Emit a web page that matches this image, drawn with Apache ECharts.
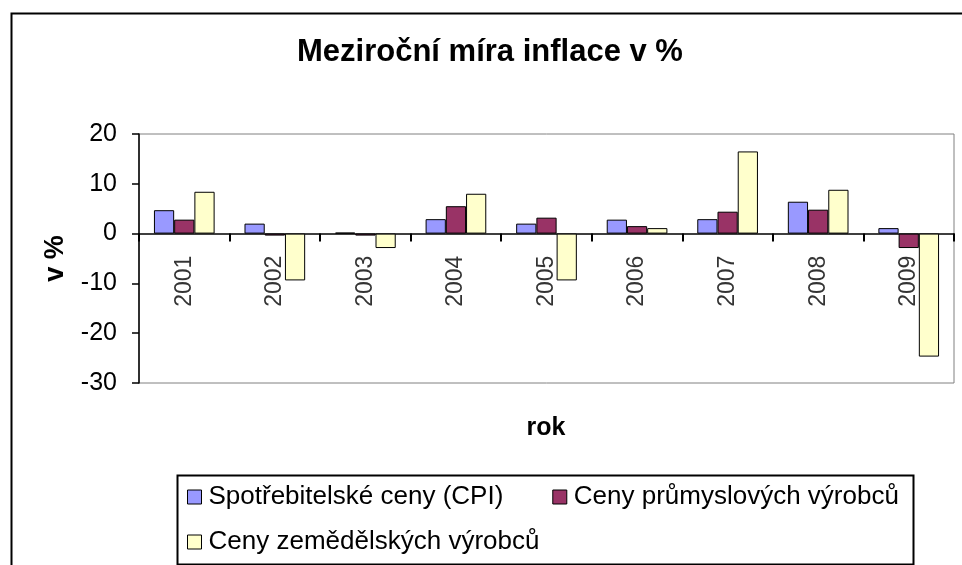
<!DOCTYPE html>
<html>
<head>
<meta charset="utf-8">
<script src="https://cdn.jsdelivr.net/npm/echarts@6/dist/echarts.min.js"></script>
<style>
html,body{margin:0;padding:0;background:#fff;}
#chart{width:962px;height:565px;}
</style>
</head>
<body>
<div id="chart"></div>
<script>
var years = ['2001','2002','2003','2004','2005','2006','2007','2008','2009'];
var seriesNames = ['Spotřebitelské ceny (CPI)','Ceny průmyslových výrobců','Ceny zemědělských výrobců'];
var cpi = [4.7, 2.0, 0.2, 2.9, 2.0, 2.8, 2.9, 6.4, 1.1];
var industrial = [2.8, -0.4, -0.4, 5.5, 3.2, 1.5, 4.4, 4.8, -2.9];
var agricultural = [8.4, -9.4, -2.9, 8.0, -9.4, 1.1, 16.5, 8.8, -24.7];
var yMin = -30, yMax = 20, yStep = 10;
var colors = ['#9999FF', '#993366', '#FFFFCC'];

var FONT = "'Liberation Sans', Arial, sans-serif";
var chart = echarts.init(document.getElementById('chart'), null, {renderer: 'canvas'});

function bar(name, data, color) {
  return {
    name: name, type: 'bar', data: data,
    barGap: '0%', barCategoryGap: '33%',
    itemStyle: {color: color, borderColor: '#000', borderWidth: 1},
    animation: false
  };
}

var legendCommon = {
  orient: 'horizontal',
  padding: 0,
  itemWidth: 14, itemHeight: 14,
  itemGap: 49,
  icon: 'rect',
  itemStyle: {borderColor: '#000', borderWidth: 1},
  textStyle: {fontFamily: FONT, fontSize: 26, color: '#000', lineHeight: 30, padding: [0,0,0,2]}
};

// year labels placed on the zero line (category, 0)
var labelPoints = years.map(function (y) { return [y, 0]; });

chart.setOption({
  backgroundColor: '#fff',
  animation: false,
  textStyle: {fontFamily: FONT},
  title: {
    text: 'Meziroční míra inflace v %',
    left: 297, top: 34, padding: 0,
    textStyle: {fontFamily: FONT, fontSize: 31, fontWeight: 'bold', color: '#000', lineHeight: 36}
  },
  legend: [
    Object.assign({}, legendCommon, {left: 187, top: 482, data: [seriesNames[0], seriesNames[1]]}),
    Object.assign({}, legendCommon, {left: 187, top: 527, data: [seriesNames[2]]})
  ],
  grid: {
    left: 139, right: 8, top: 134, bottom: 182,
    show: true, borderColor: '#808080', borderWidth: 1, backgroundColor: 'transparent'
  },
  xAxis: {
    type: 'category', data: years,
    axisLine: {show: true, onZero: true, lineStyle: {color: '#000', width: 1.5}},
    axisTick: {show: true, inside: false, length: 8, lineStyle: {color: '#000', width: 2}},
    axisLabel: {show: false},
    splitLine: {show: false}
  },
  yAxis: {
    type: 'value', min: yMin, max: yMax, interval: yStep,
    name: 'v %', nameLocation: 'middle', nameGap: 70, nameRotate: 90,
    nameTextStyle: {fontFamily: FONT, fontSize: 27, fontWeight: 'bold', color: '#000'},
    axisLine: {show: true, lineStyle: {color: '#000', width: 1.5}},
    axisTick: {show: true, inside: false, length: 7, lineStyle: {color: '#000', width: 1.5}},
    axisLabel: {fontSize: 25, margin: 22, color: '#000', fontFamily: FONT},
    splitLine: {show: false}
  },
  graphic: [
    {type: 'rect', left: 9, top: 11, shape: {x: 0, y: 0, width: 1000, height: 600},
     style: {fill: 'none', stroke: '#000', lineWidth: 2}, z: 100, silent: true},
    {type: 'rect', left: 175, top: 473, shape: {x: 0, y: 0, width: 736, height: 89},
     style: {fill: 'none', stroke: '#000', lineWidth: 2}, z: 100, silent: true},
    {type: 'text', x: 546, y: 428,
     style: {text: 'rok', fontFamily: FONT, fontSize: 25, fontWeight: 'bold', fill: '#000',
             textAlign: 'center', textVerticalAlign: 'middle'}, z: 100, silent: true}
  ],
  series: [
    bar(seriesNames[0], cpi, colors[0]),
    bar(seriesNames[1], industrial, colors[1]),
    bar(seriesNames[2], agricultural, colors[2]),
    {
      type: 'scatter', data: labelPoints, symbolSize: 0, silent: true, z: 10,
      label: {
        show: true, position: 'bottom', distance: 22, rotate: 90,
        align: 'right', verticalAlign: 'middle',
        formatter: function (p) { return p.value[0]; },
        fontFamily: FONT, fontSize: 23, color: '#000'
      }
    }
  ]
});
</script>
</body>
</html>
